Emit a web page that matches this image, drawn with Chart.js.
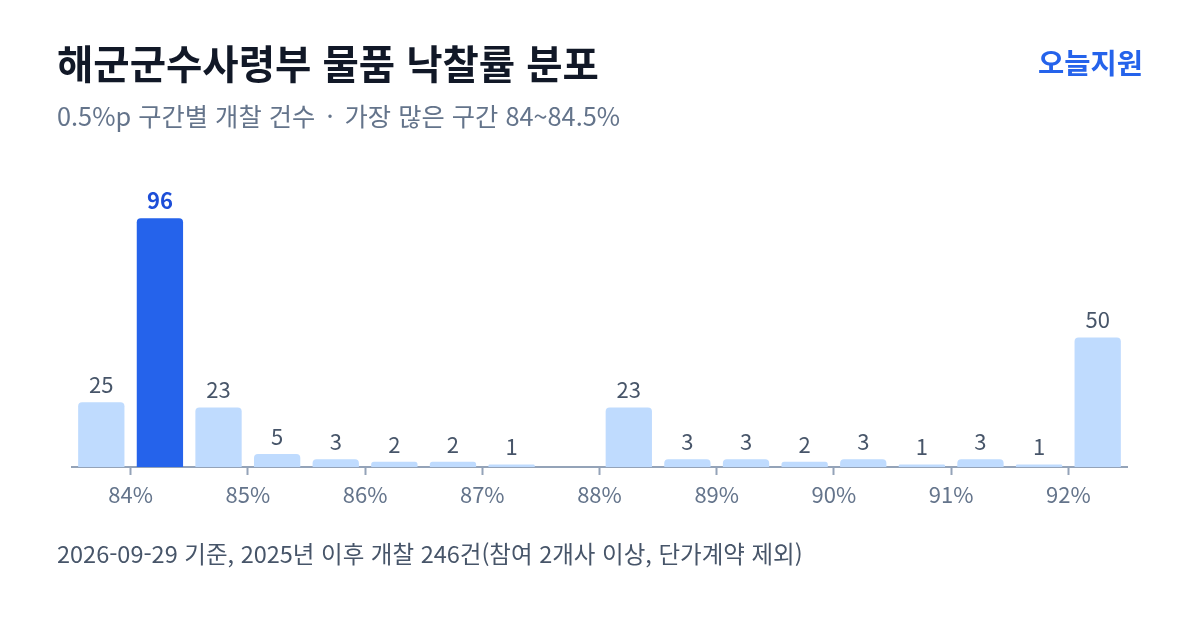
<!DOCTYPE html>
<html lang="ko">
<head>
<meta charset="utf-8">
<script src="https://cdn.jsdelivr.net/npm/chart.js@4"></script>
<style>
  html, body { margin:0; padding:0; background:#fff; }
  body { width:1200px; height:630px; position:relative; overflow:hidden; font-family:"Noto Sans CJK KR","Noto Sans",sans-serif; }
  #title { position:absolute; left:57px; top:38px; font-size:39.5px; line-height:1.2; font-weight:700; color:#111827; white-space:nowrap; }
  #subtitle { position:absolute; left:57px; top:100px; font-size:25.3px; line-height:1.2; color:#64748b; white-space:nowrap; }
  #subtitle .dot { margin:0 4px; }
  #brand { position:absolute; right:57px; top:45px; font-size:28.5px; line-height:1.2; font-weight:700; color:#2563eb; white-space:nowrap; }
  #footer { position:absolute; left:57px; top:539px; font-size:23.5px; line-height:1.2; color:#475569; white-space:nowrap; }
  #wrap { position:absolute; left:0; top:0; width:1200px; height:630px; }
</style>
</head>
<body>
<div id="wrap"><canvas id="c"></canvas></div>
<div id="title">해군군수사령부 물품 낙찰률 분포</div>
<div id="subtitle">0.5%p 구간별 개찰 건수 <span class="dot">·</span> 가장 많은 구간 84~84.5%</div>
<div id="brand">오늘지원</div>
<div id="footer">2026-09-29 기준, 2025년 이후 개찰 246건(참여 2개사 이상, 단가계약 제외)</div>
<script>
const binCenters = [83.75, 84.25, 84.75, 85.25, 85.75, 86.25, 86.75, 87.25, 87.75, 88.25, 88.75, 89.25, 89.75, 90.25, 90.75, 91.25, 91.75, 92.25];
const counts     = [25, 96, 23, 5, 3, 2, 2, 1, 0, 23, 3, 3, 2, 3, 1, 3, 1, 50];
const tickValues = [84, 85, 86, 87, 88, 89, 90, 91, 92];
const highlightIndex = 1;

const FONT = '"Noto Sans CJK KR","Noto Sans",sans-serif';
const barColors = counts.map((v, i) => i === highlightIndex ? '#2563eb' : '#bfdbfe');

const valueLabels = {
  id: 'valueLabels',
  afterDatasetsDraw(chart) {
    const ctx = chart.ctx;
    const meta = chart.getDatasetMeta(0);
    ctx.save();
    ctx.textAlign = 'center';
    ctx.textBaseline = 'alphabetic';
    meta.data.forEach((el, i) => {
      const v = counts[i];
      if (!v) return;
      const hi = i === highlightIndex;
      ctx.font = (hi ? '700 ' : '400 ') + '22px ' + FONT;
      ctx.fillStyle = hi ? '#1d4ed8' : '#475569';
      ctx.fillText(String(v), el.x, el.y - 9);
    });
    ctx.restore();
  }
};

new Chart(document.getElementById('c'), {
  type: 'bar',
  data: {
    datasets: [{
      data: binCenters.map((x, i) => ({ x: x, y: counts[i] })),
      backgroundColor: barColors,
      borderRadius: 4,
      borderSkipped: 'start',
      barPercentage: 0.79,
      categoryPercentage: 1.0
    }]
  },
  options: {
    responsive: true,
    maintainAspectRatio: false,
    animation: false,
    layout: { padding: { left: 72, right: 73, top: 182, bottom: 113 } },
    plugins: { legend: { display: false }, tooltip: { enabled: false } },
    scales: {
      x: {
        type: 'linear',
        offset: false,
        min: 83.5,
        max: 92.5,
        afterBuildTicks(axis) { axis.ticks = tickValues.map(v => ({ value: v })); },
        afterFit(axis) { axis.height = 50; },
        grid: { display: true, offset: false, drawOnChartArea: false, drawTicks: true, tickLength: 8, tickWidth: 2, color: '#94a3b8' },
        border: { display: true, color: '#94a3b8', width: 2 },
        ticks: { color: '#64748b', font: { family: FONT, size: 22 }, padding: 6, callback: v => v + '%', autoSkip: false, maxRotation: 0 }
      },
      y: {
        display: false,
        min: 0,
        max: 110
      }
    }
  },
  plugins: [valueLabels]
});
</script>
</body>
</html>
